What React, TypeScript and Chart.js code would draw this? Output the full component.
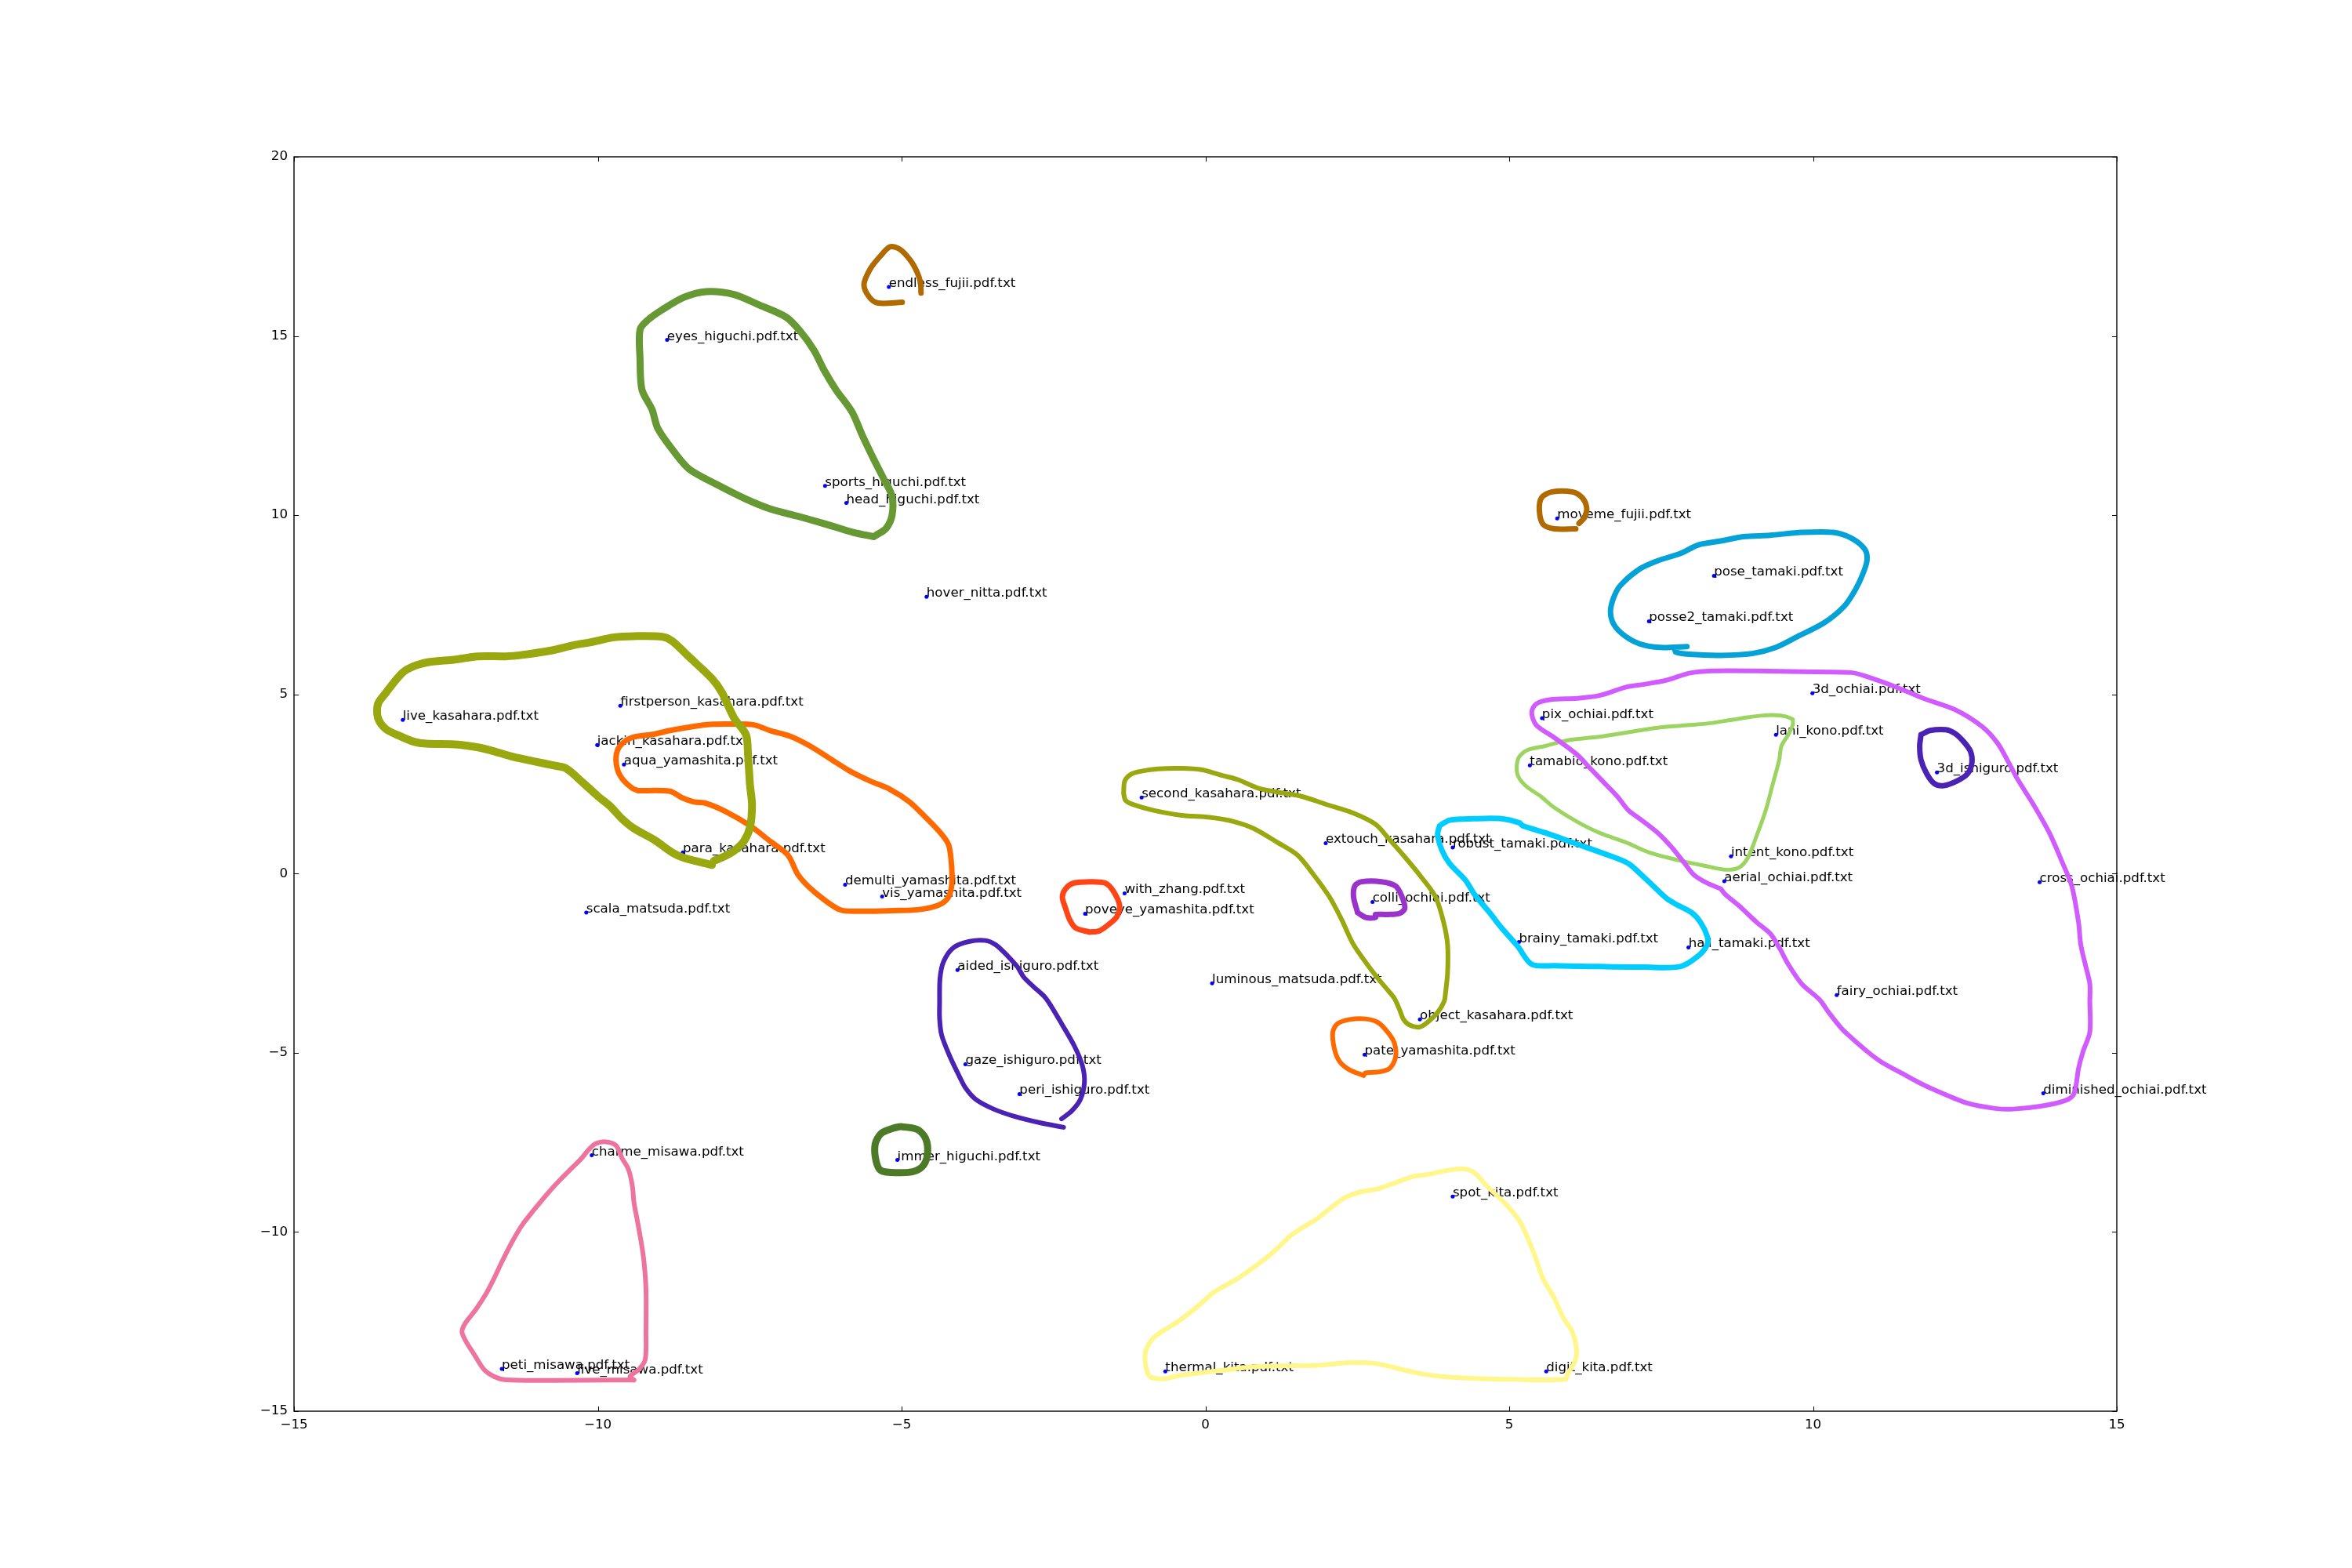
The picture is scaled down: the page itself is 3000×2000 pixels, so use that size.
import React, { useEffect, useRef } from "react";
import { Chart, registerables } from "chart.js";

Chart.register(...registerables);

// ---- document points (t-SNE style map) ----
const docNames = [
  "endless_fujii.pdf.txt", "eyes_higuchi.pdf.txt", "sports_higuchi.pdf.txt", "head_higuchi.pdf.txt",
  "hover_nitta.pdf.txt", "moveme_fujii.pdf.txt", "pose_tamaki.pdf.txt", "posse2_tamaki.pdf.txt",
  "live_kasahara.pdf.txt", "firstperson_kasahara.pdf.txt", "jackin_kasahara.pdf.txt", "aqua_yamashita.pdf.txt",
  "para_kasahara.pdf.txt", "demulti_yamashita.pdf.txt", "vis_yamashita.pdf.txt", "scala_matsuda.pdf.txt",
  "second_kasahara.pdf.txt", "extouch_kasahara.pdf.txt", "robust_tamaki.pdf.txt", "with_zhang.pdf.txt",
  "poveye_yamashita.pdf.txt", "colli_ochiai.pdf.txt", "aided_ishiguro.pdf.txt", "luminous_matsuda.pdf.txt",
  "3d_ochiai.pdf.txt", "pix_ochiai.pdf.txt", "lani_kono.pdf.txt", "tamabio_kono.pdf.txt",
  "3d_ishiguro.pdf.txt", "intent_kono.pdf.txt", "aerial_ochiai.pdf.txt", "cross_ochiai.pdf.txt",
  "brainy_tamaki.pdf.txt", "hall_tamaki.pdf.txt", "fairy_ochiai.pdf.txt", "diminished_ochiai.pdf.txt",
  "digit_kita.pdf.txt", "object_kasahara.pdf.txt", "pate_yamashita.pdf.txt", "gaze_ishiguro.pdf.txt",
  "peri_ishiguro.pdf.txt", "immer_higuchi.pdf.txt", "spot_kita.pdf.txt", "thermal_kita.pdf.txt",
  "charme_misawa.pdf.txt", "peti_misawa.pdf.txt", "live_misawa.pdf.txt",
];
const docX = [
  -5.21, -8.86, -6.26, -5.91,
  -4.59, 5.79, 8.37, 7.30,
  -13.21, -9.63, -10.01, -9.57,
  -8.60, -5.93, -5.32, -10.19,
  -1.05, 1.98, 4.07, -1.33,
  -1.98, 2.75, -4.08, 0.11,
  9.99, 5.54, 9.39, 5.34,
  12.04, 8.65, 8.54, 13.73,
  5.16, 7.95, 10.39, 13.79,
  5.61, 3.53, 2.62, -3.95,
  -3.06, -5.07, 4.07, -0.66,
  -10.10, -11.58, -10.34,
];
const docY = [
  16.37, 14.89, 10.82, 10.34,
  7.72, 9.91, 8.31, 7.04,
  4.29, 4.68, 3.59, 3.04,
  0.59, -0.31, -0.64, -1.09,
  2.12, 0.85, 0.73, -0.55,
  -1.12, -0.79, -2.69, -3.06,
  5.03, 4.34, 3.87, 3.02,
  2.82, 0.48, -0.21, -0.24,
  -1.91, -2.06, -3.39, -6.13,
  -13.89, -4.07, -5.05, -5.32,
  -6.15, -7.99, -9.01, -13.89,
  -7.86, -13.82, -13.94,
];

// ---- hand-drawn cluster outlines ----
const endlessLoop = [[-4.99,15.94],[-5.39,15.92],[-5.53,16.08],[-5.62,16.43],[-5.52,16.86],[-5.36,17.21],[-5.19,17.49],[-5.03,17.42],[-4.85,17.1],[-4.75,16.8],[-4.69,16.5],[-4.68,16.2]];
const higuchiLoop = [[-5.455,9.40],[-5.797,9.52],[-6.244,9.75],[-6.705,9.97],[-7.166,10.18],[-7.561,10.45],[-8.022,10.84],[-8.483,11.27],[-8.713,11.70],[-9.009,12.41],[-9.108,12.95],[-9.273,13.50],[-9.305,14.36],[-9.305,15.18],[-9.174,15.45],[-8.943,15.73],[-8.581,16.08],[-8.219,16.24],[-7.758,16.16],[-7.363,15.88],[-6.903,15.53],[-6.672,15.14],[-6.442,14.60],[-6.277,14.05],[-6.080,13.50],[-5.816,12.88],[-5.652,12.25],[-5.455,11.55],[-5.290,11.00],[-5.158,10.53],[-5.158,9.99],[-5.257,9.63],[-5.421,9.44]];
const movemeLoop = [[6.096,9.62],[5.741,9.62],[5.556,9.75],[5.496,10.14],[5.533,10.49],[5.704,10.65],[6.037,10.65],[6.2,10.49],[6.274,10.22],[6.244,9.95],[6.148,9.77]];
const tamakiTopLoop = [[7.926,6.336],[7.481,6.31],[7.148,6.41],[6.889,6.65],[6.719,6.96],[6.667,7.31],[6.719,7.70],[6.83,8.04],[7.148,8.50],[7.444,8.73],[7.815,8.93],[8.111,9.17],[8.481,9.28],[8.852,9.40],[9.296,9.44],[9.815,9.52],[10.333,9.52],[10.63,9.36],[10.852,9.05],[10.889,8.74],[10.815,8.34],[10.704,7.94],[10.519,7.47],[10.185,7.0],[9.741,6.61],[9.37,6.30],[8.999,6.14],[8.48,6.09],[7.963,6.12],[7.741,6.18],[7.726,6.28]];
const kasaharaLoop = [[-8.12,0.24],[-8.581,0.437],[-8.779,0.593],[-9.075,0.945],[-9.404,1.258],[-9.602,1.531],[-9.799,1.883],[-9.997,2.156],[-10.227,2.508],[-10.523,2.937],[-10.721,3.015],[-11.05,3.133],[-11.379,3.25],[-11.774,3.445],[-11.972,3.523],[-12.301,3.601],[-12.828,3.625],[-13.025,3.679],[-13.255,3.836],[-13.486,4.031],[-13.618,4.344],[-13.618,4.734],[-13.486,5.047],[-13.222,5.593],[-13.025,5.789],[-12.762,5.906],[-12.367,5.969],[-11.972,6.062],[-11.511,6.062],[-11.248,6.101],[-10.787,6.218],[-10.392,6.375],[-10.128,6.453],[-9.733,6.593],[-9.404,6.625],[-8.943,6.609],[-8.779,6.492],[-8.483,6.023],[-8.12,5.437],[-7.956,5.047],[-7.758,4.344],[-7.561,3.875],[-7.528,3.328],[-7.495,2.468],[-7.462,1.922],[-7.495,1.297],[-7.594,0.906],[-7.758,0.633],[-7.923,0.476],[-8.087,0.359]];
const yamashitaLoop = [[-9.338,2.312],[-8.812,2.297],[-8.614,2.117],[-8.417,2.0],[-8.219,1.961],[-7.89,1.726],[-7.495,1.336],[-7.166,0.906],[-6.87,0.515],[-6.705,-0.031],[-6.442,-0.5],[-6.014,-1.008],[-5.652,-1.047],[-5.125,-1.031],[-4.737,-1.008],[-4.408,-0.891],[-4.243,-0.695],[-4.177,-0.344],[-4.177,0.203],[-4.223,0.789],[-4.342,1.101],[-4.605,1.57],[-4.868,1.999],[-5.191,2.351],[-5.52,2.586],[-5.849,2.859],[-6.145,3.172],[-6.508,3.562],[-6.837,3.836],[-7.166,3.992],[-7.429,4.148],[-7.758,4.172],[-8.153,4.164],[-8.417,4.109],[-8.812,3.992],[-9.075,3.89],[-9.437,3.797],[-9.635,3.562],[-9.7,3.25],[-9.667,2.859],[-9.569,2.586],[-9.437,2.39],[-9.338,2.312]];
const secondLoop = [[-1.346,2.234],[-1.327,2.586],[-1.215,2.781],[-1.05,2.859],[-0.787,2.922],[-0.392,2.937],[-0.063,2.898],[0.267,2.742],[0.53,2.625],[0.859,2.39],[1.188,2.273],[1.583,2.156],[1.978,1.937],[2.439,1.687],[2.801,1.375],[3.032,0.945],[3.295,0.437],[3.558,-0.109],[3.789,-0.656],[3.921,-1.359],[3.986,-1.984],[3.986,-2.766],[3.953,-3.313],[3.93,-3.562],[3.822,-3.875],[3.657,-4.148],[3.525,-4.281],[3.361,-4.226],[3.262,-4.07],[3.196,-3.797],[3.111,-3.484],[3.032,-3.313],[2.801,-2.844],[2.439,-1.984],[2.242,-1.281],[2.044,-0.656],[1.781,-0.031],[1.517,0.515],[1.188,0.867],[0.793,1.258],[0.464,1.453],[0.069,1.57],[-0.392,1.625],[-0.853,1.765],[-1.182,1.922],[-1.313,2.039],[-1.346,2.234]];
const poveyeLoop = [[-1.906,-1.633],[-2.136,-1.516],[-2.235,-1.281],[-2.301,-0.969],[-2.354,-0.656],[-2.301,-0.422],[-2.169,-0.266],[-1.906,-0.227],[-1.643,-0.266],[-1.511,-0.5],[-1.412,-0.891],[-1.458,-1.203],[-1.577,-1.399],[-1.741,-1.594],[-1.906,-1.633]];
const colliLoop = [[2.505,-1.086],[2.439,-0.656],[2.459,-0.344],[2.571,-0.227],[2.9,-0.227],[3.13,-0.344],[3.229,-0.617],[3.282,-0.969],[3.196,-1.109],[2.999,-1.141],[2.801,-1.141],[2.801,-1.219],[2.637,-1.219],[2.505,-1.086]];
const robustLoop = [[3.855,1.336],[3.822,1.101],[3.888,0.672],[4.019,0.281],[4.282,-0.187],[4.427,-0.578],[4.677,-1.086],[4.875,-1.516],[5.138,-2.024],[5.37,-2.531],[5.741,-2.57],[6.481,-2.594],[7.222,-2.609],[7.815,-2.594],[8.111,-2.297],[8.259,-1.984],[8.259,-1.75],[8.148,-1.359],[8.0,-1.086],[7.741,-0.852],[7.593,-0.695],[7.37,-0.344],[7.148,0.008],[6.963,0.281],[6.63,0.515],[6.111,0.828],[5.593,1.14],[5.222,1.336],[5.171,1.414],[4.875,1.531],[4.414,1.531],[4.019,1.492],[3.855,1.336]];
const ochiaiLoop = [[8.481,-0.422],[8.259,-0.266],[8.037,-0.031],[7.889,0.281],[7.667,0.749],[7.444,1.14],[7.148,1.531],[6.963,1.765],[6.778,2.156],[6.556,2.547],[6.333,2.937],[6.111,3.328],[5.741,3.797],[5.444,4.148],[5.37,4.5],[5.444,4.734],[5.667,4.851],[6.111,4.89],[6.481,4.968],[6.926,5.203],[7.222,5.281],[7.593,5.398],[7.963,5.593],[8.333,5.656],[9.074,5.656],[9.815,5.632],[10.63,5.609],[10.852,5.515],[11.37,5.203],[11.815,4.89],[12.333,4.578],[12.778,4.109],[13.037,3.64],[13.222,3.093],[13.37,2.625],[13.63,1.922],[13.889,1.14],[14.111,0.281],[14.259,-0.344],[14.37,-1.359],[14.407,-1.984],[14.481,-2.531],[14.556,-3.078],[14.556,-3.562],[14.556,-4.422],[14.444,-4.968],[14.37,-5.437],[14.296,-6.14],[14.148,-6.336],[13.741,-6.492],[13.296,-6.57],[13.0,-6.554],[12.556,-6.414],[12.037,-6.062],[11.741,-5.828],[11.444,-5.554],[11.148,-5.281],[10.926,-5.008],[10.63,-4.578],[10.481,-4.344],[10.259,-3.875],[10.111,-3.523],[9.815,-3.078],[9.593,-2.531],[9.444,-2.063],[9.296,-1.672],[9.074,-1.359],[8.778,-0.891],[8.556,-0.578],[8.481,-0.422]];
const konoLoop = [[9.667,4.304],[9.556,4.383],[9.37,4.422],[9.148,4.406],[8.926,4.359],[8.63,4.281],[8.259,4.187],[7.815,4.125],[7.444,4.07],[7.0,3.953],[6.556,3.836],[5.963,3.718],[5.593,3.562],[5.296,3.445],[5.148,3.211],[5.133,2.781],[5.259,2.468],[5.519,2.156],[5.741,1.843],[6.111,1.453],[6.481,1.14],[6.926,0.867],[7.296,0.593],[7.815,0.359],[8.259,0.203],[8.556,0.109],[8.778,0.164],[8.926,0.437],[9.074,1.062],[9.222,1.765],[9.333,2.468],[9.444,3.172],[9.481,3.562],[9.593,3.875],[9.667,4.148],[9.667,4.304]];
const ishiguro3dLoop = [[11.778,3.875],[11.926,3.992],[12.185,4.015],[12.333,3.914],[12.481,3.679],[12.593,3.406],[12.615,3.093],[12.541,2.781],[12.37,2.586],[12.148,2.453],[12.0,2.508],[11.874,2.781],[11.778,3.172],[11.756,3.562],[11.778,3.875]];
const ishiguroLoop = [[-2.367,-6.843],[-2.202,-6.625],[-2.057,-6.297],[-1.991,-5.828],[-2.024,-5.359],[-2.156,-4.812],[-2.367,-4.187],[-2.531,-3.719],[-2.643,-3.445],[-2.828,-3.156],[-2.992,-2.883],[-3.091,-2.609],[-3.255,-2.297],[-3.453,-1.984],[-3.618,-1.867],[-3.881,-1.891],[-4.144,-2.063],[-4.309,-2.453],[-4.368,-2.922],[-4.375,-3.625],[-4.375,-4.031],[-4.342,-4.5],[-4.21,-5.086],[-4.045,-5.672],[-3.947,-5.984],[-3.782,-6.297],[-3.486,-6.57],[-3.157,-6.765],[-2.696,-6.961],[-2.334,-7.078]];
const immerLoop = [[-5.125,-7.094],[-5.336,-7.25],[-5.435,-7.547],[-5.421,-8.016],[-5.336,-8.289],[-5.059,-8.344],[-4.803,-8.312],[-4.638,-8.133],[-4.572,-7.781],[-4.605,-7.39],[-4.737,-7.14],[-5.0,-7.062],[-5.125,-7.094]];
const pateLoop = [[2.604,-5.633],[2.373,-5.476],[2.209,-5.242],[2.123,-4.89],[2.097,-4.422],[2.176,-4.187],[2.373,-4.07],[2.637,-4.054],[2.834,-4.148],[2.999,-4.422],[3.111,-4.734],[3.13,-5.125],[3.032,-5.437],[2.867,-5.531],[2.637,-5.562],[2.604,-5.633]];
const misawaLoop = [[-9.404,-14.132],[-9.47,-14.031],[-9.325,-13.836],[-9.22,-13.562],[-9.207,-12.781],[-9.207,-11.609],[-9.24,-10.828],[-9.286,-10.281],[-9.352,-9.656],[-9.404,-9.187],[-9.431,-8.718],[-9.496,-8.25],[-9.602,-7.937],[-9.7,-7.586],[-9.865,-7.484],[-10.03,-7.531],[-10.141,-7.687],[-10.273,-7.953],[-10.425,-8.211],[-10.622,-8.547],[-10.8,-8.875],[-11.05,-9.383],[-11.248,-9.812],[-11.412,-10.281],[-11.577,-10.828],[-11.708,-11.297],[-11.84,-11.726],[-12.005,-12.156],[-12.182,-12.547],[-12.235,-12.781],[-12.182,-13.016],[-12.038,-13.406],[-11.873,-13.836],[-11.708,-14.031],[-11.511,-14.125],[-10.721,-14.14],[-9.733,-14.132],[-9.404,-14.132]];
const kitaLoop = [[-0.787,-14.093],[-0.918,-14.031],[-0.984,-13.719],[-0.984,-13.328],[-0.885,-13.016],[-0.721,-12.781],[-0.458,-12.508],[-0.128,-12.078],[0.135,-11.687],[0.53,-11.297],[0.859,-10.906],[1.122,-10.554],[1.386,-10.125],[1.583,-9.89],[1.847,-9.617],[2.11,-9.265],[2.308,-9.031],[2.571,-8.875],[2.834,-8.797],[3.163,-8.601],[3.427,-8.445],[3.624,-8.406],[3.953,-8.289],[4.217,-8.234],[4.414,-8.328],[4.611,-8.679],[4.875,-9.109],[5.007,-9.344],[5.185,-9.734],[5.407,-10.593],[5.556,-11.297],[5.741,-11.843],[5.889,-12.39],[6.037,-12.781],[6.111,-13.328],[6.074,-13.64],[5.963,-13.953],[5.926,-14.109],[5.0,-14.109],[4.546,-14.093],[3.888,-14.031],[3.427,-13.914],[2.834,-13.68],[2.439,-13.64],[2.11,-13.68],[1.847,-13.719],[1.254,-13.734],[0.793,-13.758],[0.398,-13.836],[0.003,-13.914],[-0.392,-13.992],[-0.655,-14.093],[-0.787,-14.093]];

const loopList = [
  { pts: endlessLoop, color: "#b06a00", width: 7 },
  { pts: higuchiLoop, color: "#669933", width: 9 },
  { pts: movemeLoop, color: "#b06a00", width: 7 },
  { pts: tamakiTopLoop, color: "#04a2d6", width: 7 },
  { pts: kasaharaLoop, color: "#99a80f", width: 10 },
  { pts: yamashitaLoop, color: "#ff6a00", width: 7 },
  { pts: secondLoop, color: "#99a80f", width: 6 },
  { pts: poveyeLoop, color: "#ff4418", width: 7 },
  { pts: colliLoop, color: "#9933cc", width: 7 },
  { pts: robustLoop, color: "#00ccff", width: 7 },
  { pts: ochiaiLoop, color: "#d05cff", width: 6 },
  { pts: konoLoop, color: "#9cd462", width: 5 },
  { pts: ishiguro3dLoop, color: "#4a22b4", width: 7 },
  { pts: ishiguroLoop, color: "#4a22b4", width: 6 },
  { pts: immerLoop, color: "#4d7a26", width: 9 },
  { pts: pateLoop, color: "#ff6a00", width: 6 },
  { pts: misawaLoop, color: "#ee74a0", width: 6 },
  { pts: kitaLoop, color: "#fff68c", width: 6 },
];

const xTicks = [-15, -10, -5, 0, 5, 10, 15];
const yTicks = [-15, -10, -5, 0, 5, 10, 15, 20];

const FONT = '"DejaVu Sans", "Liberation Sans", sans-serif';
const fmt = (v: number) => (v < 0 ? "\u2212" + Math.abs(v) : String(v));

const labelPlugin = {
  id: "docLabels",
  beforeDatasetsDraw(chart: any) {
    const { ctx, scales } = chart;
    ctx.save();
    ctx.font = `16.67px ${FONT}`;
    ctx.fillStyle = "#000";
    ctx.textAlign = "left";
    ctx.textBaseline = "alphabetic";
    docNames.forEach((n, i) => {
      ctx.fillText(n, scales.x.getPixelForValue(docX[i]), scales.y.getPixelForValue(docY[i]));
    });
    ctx.restore();
  },
};

const framePlugin = {
  id: "frame",
  afterDatasetsDraw(chart: any) {
    const { ctx, chartArea: a, scales } = chart;
    ctx.save();
    ctx.strokeStyle = "#000";
    ctx.lineWidth = 1.4;
    ctx.strokeRect(a.left, a.top, a.right - a.left, a.bottom - a.top);
    ctx.lineWidth = 1;
    const L = 6;
    ctx.beginPath();
    xTicks.forEach((v) => {
      const p = Math.round(scales.x.getPixelForValue(v)) + 0.5;
      ctx.moveTo(p, a.bottom); ctx.lineTo(p, a.bottom - L);
      ctx.moveTo(p, a.top); ctx.lineTo(p, a.top + L);
    });
    yTicks.forEach((v) => {
      const p = Math.round(scales.y.getPixelForValue(v)) + 0.5;
      ctx.moveTo(a.left, p); ctx.lineTo(a.left + L, p);
      ctx.moveTo(a.right, p); ctx.lineTo(a.right - L, p);
    });
    ctx.stroke();
    ctx.restore();
  },
};

export default function App() {
  const ref = useRef<HTMLCanvasElement | null>(null);
  useEffect(() => {
    document.body.style.margin = "0";
    const canvas = ref.current;
    if (!canvas) return;
    const datasets: any[] = loopList.map((l) => ({
      data: l.pts.map(([x, y]) => ({ x, y })),
      showLine: true,
      borderColor: l.color,
      borderWidth: l.width,
      borderCapStyle: "round",
      borderJoinStyle: "round",
      pointRadius: 0,
      fill: false,
      tension: 0.3,
      order: 0,
    }));
    datasets.push({
      data: docX.map((x, i) => ({ x, y: docY[i] })),
      showLine: false,
      pointRadius: 2.5,
      pointBackgroundColor: "#0000ff",
      pointBorderWidth: 0,
      order: 5,
    });
    const chart = new Chart(canvas, {
      type: "scatter",
      data: { datasets },
      options: {
        animation: false,
        responsive: false,
        devicePixelRatio: 1,
        layout: { padding: { top: 200, right: 300, left: 0, bottom: 0 } },
        plugins: { legend: { display: false }, tooltip: { enabled: false }, title: { display: false } },
        scales: {
          x: {
            type: "linear",
            min: -15,
            max: 15,
            afterFit: (s: any) => { s.height = 200; },
            afterBuildTicks: (s: any) => { s.ticks = xTicks.map((v) => ({ value: v })); },
            grid: { display: false, drawTicks: false },
            border: { display: false },
            ticks: { padding: 8, color: "#000", font: { family: FONT, size: 16.67 }, callback: (v: any) => fmt(Number(v)), maxRotation: 0 },
          },
          y: {
            type: "linear",
            min: -15,
            max: 20,
            afterFit: (s: any) => { s.width = 375; },
            afterBuildTicks: (s: any) => { s.ticks = yTicks.map((v) => ({ value: v })); },
            grid: { display: false, drawTicks: false },
            border: { display: false },
            ticks: { padding: 8, color: "#000", font: { family: FONT, size: 16.67 }, callback: (v: any) => fmt(Number(v)) },
          },
        },
      },
      plugins: [labelPlugin, framePlugin],
    });
    return () => chart.destroy();
  }, []);
  return (
    <div style={{ position: "absolute", left: 0, top: 0, width: 3000, height: 2000, background: "#fff" }}>
      <canvas ref={ref} width={3000} height={2000} style={{ display: "block", width: 3000, height: 2000 }} />
    </div>
  );
}
